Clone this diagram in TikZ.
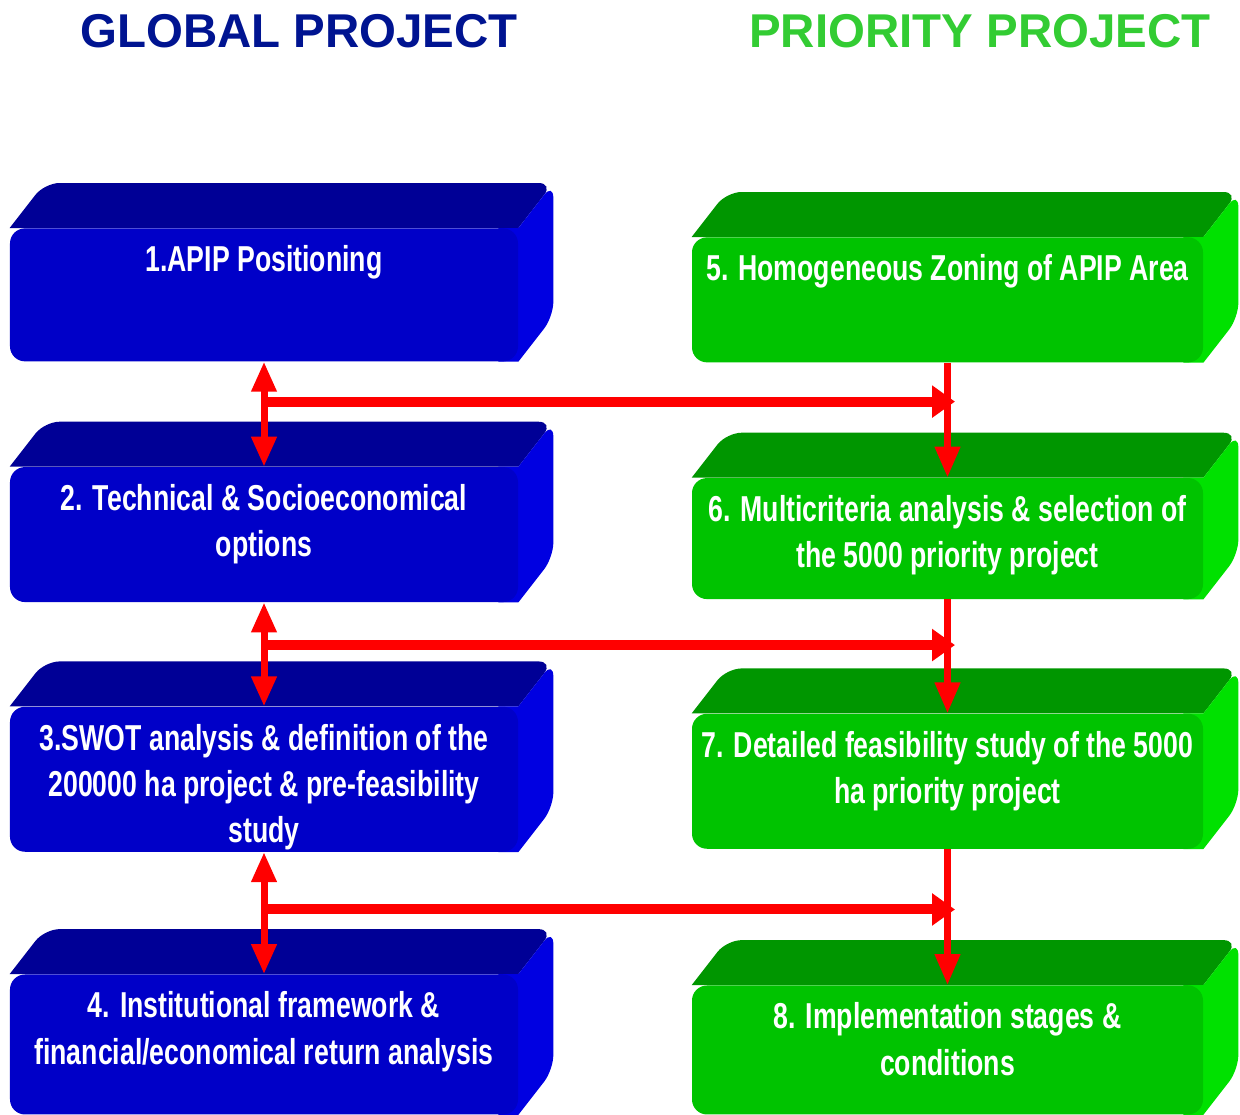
\documentclass[tikz,border=0pt]{standalone}
\usepackage{fontspec}
\setmainfont{Liberation Sans}
\newfontfamily\narrowfont[FakeStretch=0.74]{Liberation Sans}
\usepackage{tikz}
\usetikzlibrary{arrows.meta,positioning,calc,backgrounds}

\definecolor{bluefront}{RGB}{0,0,200}
\definecolor{bluetop}{RGB}{0,0,150}
\definecolor{blueside}{RGB}{0,0,225}
\definecolor{greenfront}{RGB}{0,195,0}
\definecolor{greentop}{RGB}{0,150,0}
\definecolor{greenside}{RGB}{0,225,0}
\definecolor{globalblue}{RGB}{0,20,145}
\definecolor{prioritygreen}{RGB}{51,204,51}

\begin{document}
\begin{tikzpicture}[
    title/.style={font=\bfseries\fontsize{27}{32}\selectfont, anchor=base},
    slab/.style={rounded corners=0.3cm, inner sep=0pt, align=flush center, text=white, anchor=north,
      font=\narrowfont\bfseries\fontsize{20.5}{26.2}\selectfont, text height=0.87cm},
    bluebox/.style={slab, fill=bluefront, text width=10.16cm},
    greenbox/.style={slab, fill=greenfront, text width=10.22cm},
    link/.style={draw=red, line width=0.14cm},
    twoway/.style={link, {Triangle[width=0.48cm,length=0.6cm]}-{Triangle[width=0.48cm,length=0.6cm]}},
    oneway/.style={link, -{Triangle[width=0.48cm,length=0.62cm]}},
    across/.style={draw=red, line width=0.2cm, -{Triangle[width=0.62cm,length=0.46cm]}}
  ]
    \useasboundingbox (0,0) rectangle (24.8,-22.28);

    \node[title, text=globalblue] (global) at (5.98,-0.94) {GLOBAL PROJECT};
    \node[title, text=prioritygreen] (priority) at (19.6,-0.94) {PRIORITY PROJECT};

    % global project column
    \node[bluebox, text depth=1.79cm] (b1) at (5.28,-4.56) {1.APIP Positioning};
    \node[bluebox, text depth=1.83cm, below=2.1cm of b1] (b2) {2. Technical \& Socioeconomical\\options};
    \node[bluebox, text depth=2.03cm, below=2.08cm of b2] (b3) {3.SWOT analysis \& definition of the\\200000 ha project \& pre-feasibility\\study};
    \node[bluebox, text depth=1.93cm, below=2.44cm of b3] (b4) {4. Institutional framework \&\\financial/economical return analysis};

    % priority project column
    \node[greenbox, text depth=1.63cm] (b5) at (18.95,-4.74) {5. Homogeneous Zoning of APIP Area};
    \node[greenbox, text depth=1.55cm, below=2.3cm of b5] (b6) {6. Multicriteria analysis \& selection of\\the 5000 priority project};
    \node[greenbox, text depth=1.83cm, below=2.28cm of b6] (b7) {7. Detailed feasibility study of the 5000\\ha priority project};
    \node[greenbox, text depth=1.71cm, below=2.72cm of b7] (b8) {8. Implementation stages \&\\conditions};

    % top and side faces
    \begin{scope}[on background layer]
      \foreach \b/\t/\s in {b1/bluetop/blueside, b2/bluetop/blueside, b3/bluetop/blueside, b4/bluetop/blueside,
                            b5/greentop/greenside, b6/greentop/greenside, b7/greentop/greenside, b8/greentop/greenside} {
        \fill[\t] (\b.north west) {[rounded corners=0.3cm] -- ++(0.7,0.9) -- ($(\b.north east)+(0.7,0.9)$)}
          -- (\b.north east) -- cycle;
        \fill[\s] (\b.north east) {[rounded corners=0.3cm] -- ++(0.7,0.9) -- ($(\b.south east)+(0.7,0.9)$)}
          -- (\b.south east) -- ++(-0.4,0) -- ($(\b.north east)+(-0.4,0)$) -- cycle;
      }
    \end{scope}

    \coordinate (h1) at ($(b1.south)!0.38!(b2.north)$);
    \coordinate (h2) at ($(b2.south)!0.41!(b3.north)$);
    \coordinate (h3) at ($(b3.south)!0.47!(b4.north)$);

    \draw[twoway] (b1) -- (b2);
    \draw[twoway] (b2) -- (b3);
    \draw[twoway] (b3) -- (b4);
    \draw[oneway] (b5.south) -- (b6.north);
    \draw[oneway] (b6.south) -- (b7.north);
    \draw[oneway] (b7.south) -- (b8.north);
    \draw[across] (h1) -- ([xshift=0.15cm]h1 -| b6.north);
    \draw[across] (h2) -- ([xshift=0.15cm]h2 -| b7.north);
    \draw[across] (h3) -- ([xshift=0.15cm]h3 -| b8.north);
  \end{tikzpicture}
\end{document}
